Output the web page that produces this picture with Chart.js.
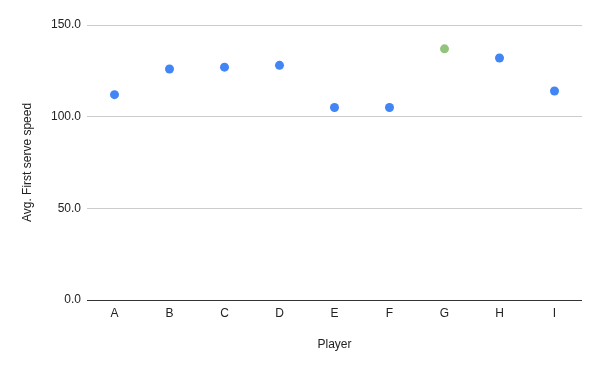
<!DOCTYPE html>
<html>
<head>
<meta charset="utf-8">
<script src="https://cdn.jsdelivr.net/npm/chart.js@4/dist/chart.umd.min.js"></script>
<style>
  html, body { margin: 0; padding: 0; background: #fff; }
  #c { display: block; }
</style>
</head>
<body>
<canvas id="c" width="600" height="371"></canvas>
<script>
const players = ['A', 'B', 'C', 'D', 'E', 'F', 'G', 'H', 'I'];
const firstServeSpeed = [112, 126, 127, 128, 105, 105, 137, 132, 114];
const highlightedPlayer = 'G';
const yTicks = [0, 50, 100, 150];

const BLUE = '#4285F4';
const GREEN = '#93C47D';
const pointColors = players.map(p => p === highlightedPlayer ? GREEN : BLUE);
const FONT = "'Liberation Sans', Arial, sans-serif";

new Chart(document.getElementById('c'), {
  type: 'line',
  data: {
    labels: players,
    datasets: [{
      label: 'Avg. First serve speed',
      data: firstServeSpeed,
      showLine: false,
      pointRadius: 4.5,
      pointHoverRadius: 4.5,
      pointBorderWidth: 0,
      pointBackgroundColor: pointColors,
      pointBorderColor: pointColors
    }]
  },
  options: {
    responsive: false,
    animation: false,
    events: [],
    layout: { padding: { top: 25, right: 18, bottom: 0, left: 0 } },
    plugins: { legend: { display: false }, tooltip: { enabled: false } },
    scales: {
      x: {
        offset: true,
        grid: { display: false, drawTicks: false },
        border: { display: false },
        ticks: { color: '#222', font: { family: FONT, size: 12 }, padding: 6, maxRotation: 0 },
        title: { display: true, text: 'Player', color: '#222', font: { family: FONT, size: 12 }, padding: { top: 0, bottom: 19.5 } },
        afterFit: s => { s.height = 71; }
      },
      y: {
        min: yTicks[0],
        max: yTicks[yTicks.length - 1],
        afterBuildTicks: s => { s.ticks = yTicks.map(v => ({ value: v })); },
        grid: {
          drawTicks: false,
          color: ctx => (ctx.tick && ctx.tick.value === 0) ? '#333333' : '#cccccc',
          lineWidth: 1
        },
        border: { display: false },
        ticks: {
          color: '#222',
          font: { family: FONT, size: 12 },
          padding: 6,
          callback: v => Number(v).toFixed(1)
        },
        title: { display: true, text: 'Avg. First serve speed', color: '#222', font: { family: FONT, size: 12 }, padding: { top: 20, bottom: 0 } },
        afterFit: s => { s.width = 87; }
      }
    }
  }
});
</script>
</body>
</html>
